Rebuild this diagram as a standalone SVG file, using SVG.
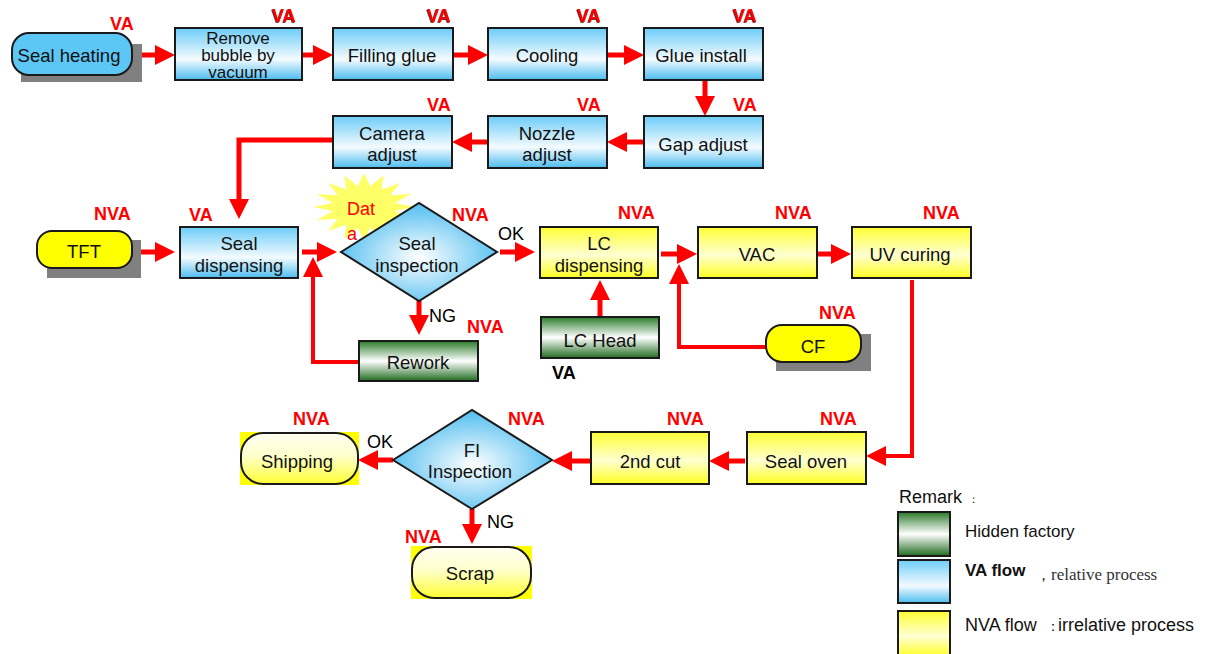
<svg xmlns="http://www.w3.org/2000/svg" width="1214" height="654" viewBox="0 0 1214 654">
  <style>
    text { font-family: "Liberation Sans", Arial, sans-serif; }
    .t { font-size: 18.5px; fill: #111; text-anchor: middle; }
    .t3 { font-size: 17px; fill: #111; text-anchor: middle; }
    .lbl { font-size: 18px; font-weight: bold; fill: #ff0000; }
    .sh { filter: url(#textShadow); }
    .yn { font-size: 18px; fill: #000; }
    .box { stroke: #1a1a1a; stroke-width: 2; }
    .shadow { fill: #808080; }
    .flow { fill: none; stroke: #ff0000; stroke-width: 5; marker-end: url(#head); }
    .back { fill: none; stroke: #ff0000; stroke-width: 4; marker-end: url(#head); }
    .leg { font-size: 17px; fill: #111; }
    .serif { font-family: "Liberation Serif", "Times New Roman", serif; }
  </style>
  <defs>
    <linearGradient id="gBlue" x1="0" y1="0" x2="0" y2="1">
      <stop offset="0" stop-color="#6cccf8"/>
      <stop offset="0.6" stop-color="#f4fbff"/>
      <stop offset="1" stop-color="#4cbcf0"/>
    </linearGradient>
    <linearGradient id="gYellow" x1="0" y1="0" x2="0" y2="1">
      <stop offset="0" stop-color="#ffff33"/>
      <stop offset="0.55" stop-color="#ffffd2"/>
      <stop offset="1" stop-color="#ffff22"/>
    </linearGradient>
    <linearGradient id="gEnd" x1="0" y1="0" x2="0" y2="1">
      <stop offset="0" stop-color="#fffff2"/>
      <stop offset="0.45" stop-color="#ffffcc"/>
      <stop offset="1" stop-color="#ffff33"/>
    </linearGradient>
    <linearGradient id="gGreen" x1="0" y1="0" x2="0" y2="1">
      <stop offset="0" stop-color="#2a7a2a"/>
      <stop offset="0.5" stop-color="#ffffff"/>
      <stop offset="1" stop-color="#1f6b1f"/>
    </linearGradient>
    <radialGradient id="gDiamond" cx="0.5" cy="0.55" r="0.55">
      <stop offset="0" stop-color="#ffffff"/>
      <stop offset="1" stop-color="#4fbdf0"/>
    </radialGradient>
    <filter id="textShadow" x="-20%" y="-20%" width="140%" height="140%">
      <feDropShadow dx="-0.8" dy="0.8" stdDeviation="0.3" flood-color="#500000"/>
    </filter>
    <marker id="head" markerUnits="userSpaceOnUse" markerWidth="20" markerHeight="20" refX="10" refY="10" orient="auto">
      <path d="M0,0 L20,10 L0,20 z" fill="#ff0000"/>
    </marker>
  </defs>

  <!-- connectors -->
  <g id="connectors">
    <path class="flow" d="M142,55 H165"/>
    <path class="flow" d="M302,55 H323"/>
    <path class="flow" d="M453,55 H478"/>
    <path class="flow" d="M607,55 H634"/>
    <path class="flow" d="M705,80 V106"/>
    <path class="flow" d="M644,142 H617"/>
    <path class="flow" d="M488,142 H462"/>
    <path class="flow" d="M333,140 H239 V209"/>
    <path class="flow" d="M141,252 H165"/>
    <path class="flow" d="M302,252 H327"/>
    <path class="flow" d="M500,252 H525"/>
    <path class="flow" d="M419,301 V325"/>
    <path class="back" d="M359,362 H313 V267"/>
    <path class="flow" d="M661,254 H687"/>
    <path class="flow" d="M600,316 V290"/>
    <path class="back" d="M766,347 H679 V274"/>
    <path class="flow" d="M817,254 H841"/>
    <path class="back" d="M912,280 V456 H876"/>
    <path class="flow" d="M745,461 H719"/>
    <path class="flow" d="M591,461 H562"/>
    <path class="flow" d="M393,460 H368"/>
    <path class="flow" d="M472,509 V534"/>
  </g>

  <!-- row 1 -->
  <g id="seal-heating">
    <rect class="shadow" x="21" y="44" width="121" height="38"/>
    <rect class="box" x="12" y="33" width="120" height="42" rx="17" fill="#5cc6f4"/>
    <text class="t" x="69" y="62">Seal heating</text>
    <text class="lbl" x="110" y="30">VA</text>
  </g>
  <g id="remove-bubble">
    <rect class="box" x="175" y="28" width="127" height="52" fill="url(#gBlue)"/>
    <text class="t3" x="238" y="44">Remove</text>
    <text class="t3" x="238" y="61">bubble by</text>
    <text class="t3" x="238" y="78">vacuum</text>
    <text class="lbl sh" x="272" y="22">VA</text>
  </g>
  <g id="filling-glue">
    <rect class="box" x="333" y="28" width="120" height="52" fill="url(#gBlue)"/>
    <text class="t" x="392" y="62">Filling glue</text>
    <text class="lbl sh" x="427" y="22">VA</text>
  </g>
  <g id="cooling">
    <rect class="box" x="488" y="28" width="119" height="52" fill="url(#gBlue)"/>
    <text class="t" x="547" y="62">Cooling</text>
    <text class="lbl sh" x="577" y="22">VA</text>
  </g>
  <g id="glue-install">
    <rect class="box" x="644" y="28" width="119" height="52" fill="url(#gBlue)"/>
    <text class="t" x="701" y="62">Glue install</text>
    <text class="lbl sh" x="733" y="22">VA</text>
  </g>

  <!-- row 2 -->
  <g id="camera-adjust">
    <rect class="box" x="333" y="116" width="119" height="52" fill="url(#gBlue)"/>
    <text class="t" x="392" y="140">Camera</text>
    <text class="t" x="392" y="161">adjust</text>
    <text class="lbl" x="427" y="111">VA</text>
  </g>
  <g id="nozzle-adjust">
    <rect class="box" x="488" y="116" width="119" height="52" fill="url(#gBlue)"/>
    <text class="t" x="547" y="140">Nozzle</text>
    <text class="t" x="547" y="161">adjust</text>
    <text class="lbl" x="577" y="111">VA</text>
  </g>
  <g id="gap-adjust">
    <rect class="box" x="644" y="116" width="119" height="52" fill="url(#gBlue)"/>
    <text class="t" x="703" y="151">Gap adjust</text>
    <text class="lbl" x="733" y="111">VA</text>
  </g>

  <!-- row 3 -->
  <g id="tft">
    <rect class="shadow" x="47" y="240" width="94" height="38"/>
    <rect class="box" x="37" y="231" width="95" height="37" rx="15" fill="#ffff00"/>
    <text class="t" x="84" y="258">TFT</text>
    <text class="lbl" x="94" y="220">NVA</text>
  </g>
  <g id="seal-dispensing">
    <rect class="box" x="180" y="227" width="118" height="51" fill="url(#gBlue)"/>
    <text class="t" x="239" y="250">Seal</text>
    <text class="t" x="239" y="272">dispensing</text>
    <text class="lbl" x="189" y="221">VA</text>
  </g>
  <g id="data-burst">
    <polygon transform="translate(364,207) scale(51,34)" fill="#ffff66" points="1,0 0.608,0.121 0.924,0.383 0.515,0.345 0.707,0.707 0.345,0.515 0.383,0.924 0.121,0.608 0,1 -0.121,0.608 -0.383,0.924 -0.345,0.515 -0.707,0.707 -0.515,0.345 -0.924,0.383 -0.608,0.121 -1,0 -0.608,-0.121 -0.924,-0.383 -0.515,-0.345 -0.707,-0.707 -0.345,-0.515 -0.383,-0.924 -0.121,-0.608 0,-1 0.121,-0.608 0.383,-0.924 0.345,-0.515 0.707,-0.707 0.515,-0.345 0.924,-0.383 0.608,-0.121"/>
  </g>
  <g id="seal-inspection">
    <polygon class="box" points="341,252 419,203 497,252 419,301" fill="url(#gDiamond)"/>
    <text class="t" x="417" y="250">Seal</text>
    <text class="t" x="417" y="272">inspection</text>
    <text class="lbl" x="452" y="221">NVA</text>
    <text class="yn" x="498" y="240">OK</text>
    <text class="yn" x="429" y="322">NG</text>
  </g>
  <g id="data-label">
    <text x="347" y="215" font-size="18" fill="#ff0000">Dat</text>
    <text x="347" y="240" font-size="18" fill="#ff0000">a</text>
  </g>
  <g id="rework">
    <rect class="box" x="359" y="341" width="119" height="40" fill="url(#gGreen)"/>
    <text class="t" x="418" y="369">Rework</text>
    <text class="lbl" x="467" y="333">NVA</text>
  </g>
  <g id="lc-dispensing">
    <rect class="box" x="540" y="227" width="118" height="51" fill="url(#gYellow)"/>
    <text class="t" x="599" y="250">LC</text>
    <text class="t" x="599" y="272">dispensing</text>
    <text class="lbl" x="618" y="219">NVA</text>
  </g>
  <g id="lc-head">
    <rect class="box" x="541" y="317" width="118" height="41" fill="url(#gGreen)"/>
    <text class="t" x="600" y="347">LC Head</text>
    <text x="552" y="379" font-size="18" font-weight="bold" fill="#000">VA</text>
  </g>
  <g id="vac">
    <rect class="box" x="698" y="227" width="119" height="51" fill="url(#gYellow)"/>
    <text class="t" x="757" y="261">VAC</text>
    <text class="lbl" x="775" y="219">NVA</text>
  </g>
  <g id="uv-curing">
    <rect class="box" x="852" y="227" width="119" height="51" fill="url(#gYellow)"/>
    <text class="t" x="910" y="261">UV curing</text>
    <text class="lbl" x="923" y="219">NVA</text>
  </g>
  <g id="cf">
    <rect class="shadow" x="776" y="334" width="95" height="37"/>
    <rect class="box" x="766" y="325" width="95" height="37" rx="16" fill="#ffff00"/>
    <text class="t" x="813" y="353">CF</text>
    <text class="lbl" x="819" y="319">NVA</text>
  </g>

  <!-- row 4 -->
  <g id="seal-oven">
    <rect class="box" x="747" y="432" width="119" height="52" fill="url(#gYellow)"/>
    <text class="t" x="806" y="468">Seal oven</text>
    <text class="lbl" x="820" y="425">NVA</text>
  </g>
  <g id="second-cut">
    <rect class="box" x="591" y="432" width="118" height="52" fill="url(#gYellow)"/>
    <text class="t" x="650" y="468">2nd cut</text>
    <text class="lbl" x="667" y="425">NVA</text>
  </g>
  <g id="fi-inspection">
    <polygon class="box" points="393,460 472,410 552,460 472,509" fill="url(#gDiamond)"/>
    <text class="t" x="472" y="457">FI</text>
    <text class="t" x="470" y="478">Inspection</text>
    <text class="lbl" x="508" y="425">NVA</text>
    <text class="yn" x="367" y="448">OK</text>
    <text class="yn" x="487" y="528">NG</text>
  </g>
  <g id="shipping">
    <rect x="240" y="432" width="119" height="53" fill="#ffff00"/>
    <rect class="box" x="241" y="433" width="117" height="51" rx="22" fill="url(#gEnd)"/>
    <text class="t" x="297" y="468">Shipping</text>
    <text class="lbl" x="293" y="425">NVA</text>
  </g>
  <g id="scrap">
    <rect x="411" y="546" width="121" height="53" fill="#ffff00"/>
    <rect class="box" x="412" y="547" width="119" height="51" rx="22" fill="url(#gEnd)"/>
    <text class="t" x="470" y="580">Scrap</text>
    <text class="lbl" x="405" y="543">NVA</text>
  </g>

  <!-- legend -->
  <g id="legend">
    <text x="899" y="503" font-size="18" fill="#111">Remark<tspan font-size="11" dx="6">：</tspan></text>
    <rect class="box" x="898" y="512" width="52" height="44" fill="url(#gGreen)"/>
    <text class="leg" x="965" y="537">Hidden factory</text>
    <rect class="box" x="898" y="560" width="52" height="43" fill="url(#gBlue)"/>
    <text class="leg" x="965" y="576" font-weight="bold">VA flow</text>
    <text class="serif" x="1036" y="580" font-size="15" fill="#111">，</text>
    <text class="serif" x="1051" y="580" font-size="17" fill="#333">relative process</text>
    <rect class="box" x="898" y="611" width="52" height="46" fill="url(#gYellow)"/>
    <text x="965" y="631" font-size="18" fill="#111">NVA flow</text>
    <text x="1046" y="631" font-size="14" fill="#111">：</text>
    <text x="1058" y="631" font-size="18" fill="#111">irrelative process</text>
  </g>
</svg>
